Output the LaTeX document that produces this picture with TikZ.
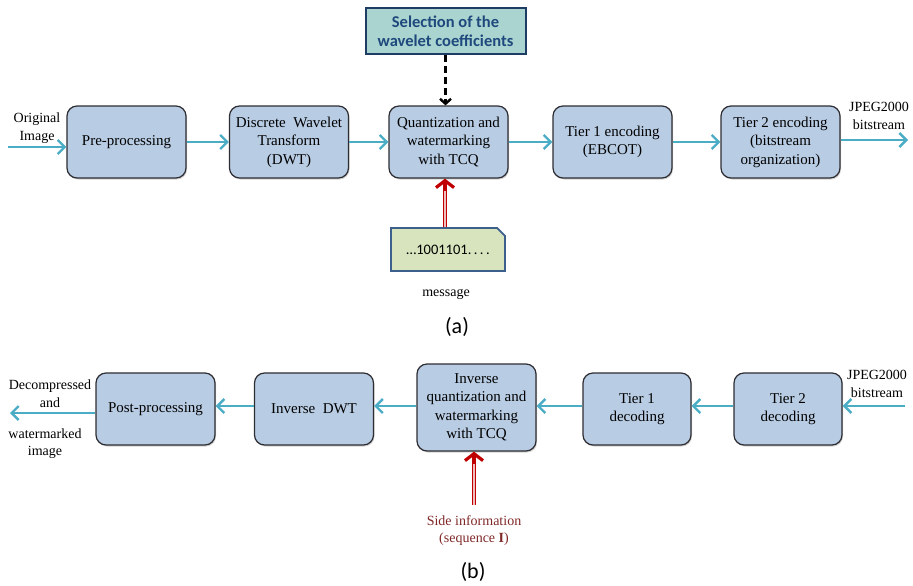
\documentclass[tikz,border=0pt]{standalone}
\usepackage{fontspec}
\setmainfont{Liberation Serif}
\newfontfamily\calfont{Carlito}
\usetikzlibrary{arrows.meta,shapes.misc,shadows,calc}
\definecolor{boxfill}{RGB}{184,204,228}
\definecolor{boxline}{RGB}{45,45,50}
\definecolor{arr}{RGB}{75,172,198}
\definecolor{selfill}{RGB}{170,212,207}
\definecolor{selline}{RGB}{30,60,100}
\definecolor{seltext}{RGB}{31,73,125}
\definecolor{msgfill}{RGB}{215,228,189}
\definecolor{msgline}{RGB}{60,95,140}
\definecolor{redarr}{RGB}{192,0,0}
\definecolor{sidetext}{RGB}{128,40,40}
\tikzset{
  blk/.style={draw=boxline, fill=boxfill, line width=1.2pt, rounded corners=10pt,
    minimum width=119pt, minimum height=72pt, align=center, inner sep=2pt,
    font=\fontsize{15}{18.5}\selectfont,
    drop shadow={shadow xshift=1pt, shadow yshift=-1.5pt, opacity=0.35}},
  flow/.style={draw=arr, line width=2.4pt, -{Straight Barb[length=7pt,width=14pt,line width=2.4pt]}},
  lbl/.style={align=center, inner sep=0pt, font=\fontsize{14}{17.5}\selectfont},
  redshaft/.style={draw=redarr, double=redarr!25, double distance=2.2pt, line width=1.1pt},
  redtip/.style={draw=redarr, line width=3.2pt, -{Straight Barb[length=7pt,width=18pt,line width=3.2pt]}},
  capt/.style={font=\calfont\fontsize{22}{24}\selectfont, inner sep=0pt}
}
\begin{document}
\begin{tikzpicture}[x=1pt,y=-1pt]
\useasboundingbox (0,0) rectangle (913,586);
% ---------- (a) ----------
\node[blk] (pre) at (126.5,142) {Pre-processing};
\node[blk] (dwt) at (289,142) {Discrete\ \ Wavelet\\Transform\\(DWT)};
\node[blk] (qua) at (448.5,142) {Quantization and\\watermarking\\with TCQ};
\node[blk] (t1) at (612.5,142) {Tier 1 encoding\\(EBCOT)};
\node[blk] (t2) at (780.5,142) {Tier 2 encoding\\(bitstream\\organization)};
\node[draw=selline, fill=selfill, line width=2pt, minimum width=160pt, minimum height=46pt,
  align=center, text=seltext, font=\calfont\bfseries\fontsize{16.5}{19}\selectfont,
  drop shadow={shadow xshift=1pt, shadow yshift=-1.5pt, opacity=0.3}]
  (sel) at (445.5,31) {Selection of the\\wavelet coefficients};
\node[chamfered rectangle, chamfered rectangle corners=north east, chamfered rectangle xsep=6pt,
  draw=msgline, fill=msgfill, line width=1.8pt, minimum width=114pt, minimum height=43pt,
  inner sep=0pt, font=\calfont\fontsize{14.5}{16}\selectfont] (msg) at (448,249.5) {\ldots1001101.\,.\,.\,.};
\node[lbl] (msgl) at (446,294) {message};
\node[lbl] (orig) at (37,128) {Original\\Image};
\node[lbl] (jpg) at (879,116) {JPEG2000\\bitstream};
\coordinate (inA) at (8,147);
\coordinate (outA) at (908,140);
\node[capt] (capa) at (457,327) {(a)};

\draw[flow] (inA) -- (inA -| pre.west);
\draw[flow] (pre.east) -- (dwt.west);
\draw[flow] (dwt.east) -- (qua.west);
\draw[flow] (qua.east) -- (t1.west);
\draw[flow] (t1.east) -- (t2.west);
\draw[flow] (t2.east |- outA) -- (outA);
\draw[line width=2.4pt, dashed, dash pattern=on 7pt off 4pt, -{Straight Barb[length=5pt,width=11pt,line width=2.4pt]}]
  (sel.south -| qua.north) ++(-3,0) coordinate (dA) -- (dA |- qua.north);
\coordinate (rA) at ($(msg.north)+(-3,0)$);
\draw[redshaft] (rA) -- ($(rA |- qua.south)+(0,8)$);
\draw[redtip] ($(rA |- qua.south)+(0,12)$) -- (rA |- qua.south);

% ---------- (b) ----------
\node[blk] (post) at (155.5,409) {Post-processing};
\node[blk] (idwt) at (314,409) {Inverse\ \ DWT};
\node[blk, minimum height=87pt] (iq) at (476.5,407.5) {Inverse\\quantization and\\watermarking\\with TCQ};
\node[blk, minimum width=108pt] (d1) at (637,409) {Tier 1\\decoding};
\node[blk, minimum width=108pt] (d2) at (788,409) {Tier 2\\decoding};
\node[lbl] (jpgb) at (877,384) {JPEG2000\\bitstream};
\node[lbl] (dec1) at (50,393.5) {Decompressed\\and};
\node[lbl] (dec2) at (45,443.5) {watermarked\\image};
\node[lbl, text=sidetext] (side) at (474,530.5) {Side information\\(sequence \textbf{I})};
\node[capt] (capb) at (473,572) {(b)};
\coordinate (inB) at (905,406);
\coordinate (outB) at (10,413);

\draw[flow] (inB) -- (inB -| d2.east);
\draw[flow] (d2.west |- inB) -- (d1.east |- inB);
\draw[flow] (d1.west |- inB) -- (iq.east |- inB);
\draw[flow] (iq.west |- inB) -- (idwt.east |- inB);
\draw[flow] (idwt.west |- inB) -- (post.east |- inB);
\draw[flow] (post.west |- outB) -- (outB);
\coordinate (rB) at ($(side.north)+(0,-10)$);
\draw[redshaft] (rB) -- ($(rB |- iq.south)+(0,8)$);
\draw[redtip] ($(rB |- iq.south)+(0,12)$) -- (rB |- iq.south);
\end{tikzpicture}
\end{document}
